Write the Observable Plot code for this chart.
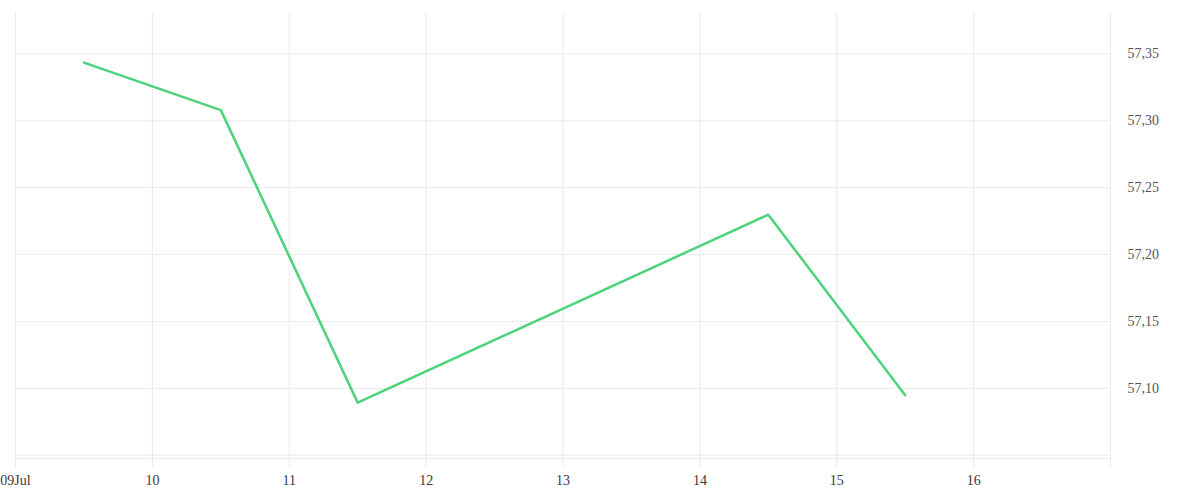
<!DOCTYPE html>
<html>
<head>
<meta charset="utf-8">
<script src="https://cdn.jsdelivr.net/npm/d3@7"></script>
<script src="https://cdn.jsdelivr.net/npm/@observablehq/plot@0.6"></script>
<style>
  html, body { margin: 0; padding: 0; background: #fff; }
  #chart svg { display: block; }
</style>
</head>
<body>
<div id="chart"></div>
<script>
const dates = ["2024-07-09T12:00:00Z", "2024-07-10T12:00:00Z", "2024-07-11T12:00:00Z", "2024-07-14T12:00:00Z", "2024-07-15T12:00:00Z"];
const values = [57.3435, 57.308, 57.0893, 57.2298, 57.0948];
const xTickDays = ["2024-07-09", "2024-07-10", "2024-07-11", "2024-07-12", "2024-07-13", "2024-07-14", "2024-07-15", "2024-07-16", "2024-07-17"];
const xLabelDays = ["2024-07-09", "2024-07-10", "2024-07-11", "2024-07-12", "2024-07-13", "2024-07-14", "2024-07-15", "2024-07-16"];
const yGridTicks = [57.05, 57.10, 57.15, 57.20, 57.25, 57.30, 57.35];
const yLabelTicks = [57.10, 57.15, 57.20, 57.25, 57.30, 57.35];
const xDomain = ["2024-07-09", "2024-07-17"];
const yDomain = [57.0475, 57.381];

const data = dates.map((d, i) => ({date: new Date(d), value: values[i]}));
const xTicks = xTickDays.map(d => new Date(d + "T00:00:00Z"));
const xLabels = xLabelDays.map(d => new Date(d + "T00:00:00Z"));
const fmtFirst = d3.utcFormat("%d%b");
const fmtDay = d3.utcFormat("%-d");

const chart = Plot.plot({
  width: 1200,
  height: 500,
  marginLeft: 15,
  marginRight: 90,
  marginTop: 12,
  marginBottom: 42,
  style: {fontFamily: "'Liberation Serif', serif", fontSize: "14px", color: "#444", background: "#fff"},
  x: {type: "utc", domain: xDomain.map(d => new Date(d + "T00:00:00Z"))},
  y: {domain: yDomain},
  marks: [
    Plot.gridY(yGridTicks, {stroke: "#ebebeb", strokeOpacity: 1}),
    Plot.gridX(xTicks, {stroke: "#ebebeb", strokeOpacity: 1}),
    Plot.frame({anchor: "bottom", stroke: "#ebebeb"}),
    Plot.axisX(xTicks, {tickSize: 10, stroke: "#ebebeb", strokeOpacity: 1, text: null, label: null}),
    Plot.axisX(xLabels, {tickSize: 0, tickPadding: 17, fill: "#3a3a3a", label: null,
      tickFormat: (d, i) => i === 0 ? fmtFirst(d) : fmtDay(d)}),
    Plot.axisY(yLabelTicks, {anchor: "right", tickSize: 0, tickPadding: 17, fill: "#555", label: null,
      textAnchor: "start",
      tickFormat: d => d.toFixed(2).replace(".", ",")}),
    Plot.line(data, {x: "date", y: "value", stroke: "#4cd37b", strokeWidth: 2.5})
  ]
});
document.getElementById("chart").appendChild(chart);
</script>
</body>
</html>
